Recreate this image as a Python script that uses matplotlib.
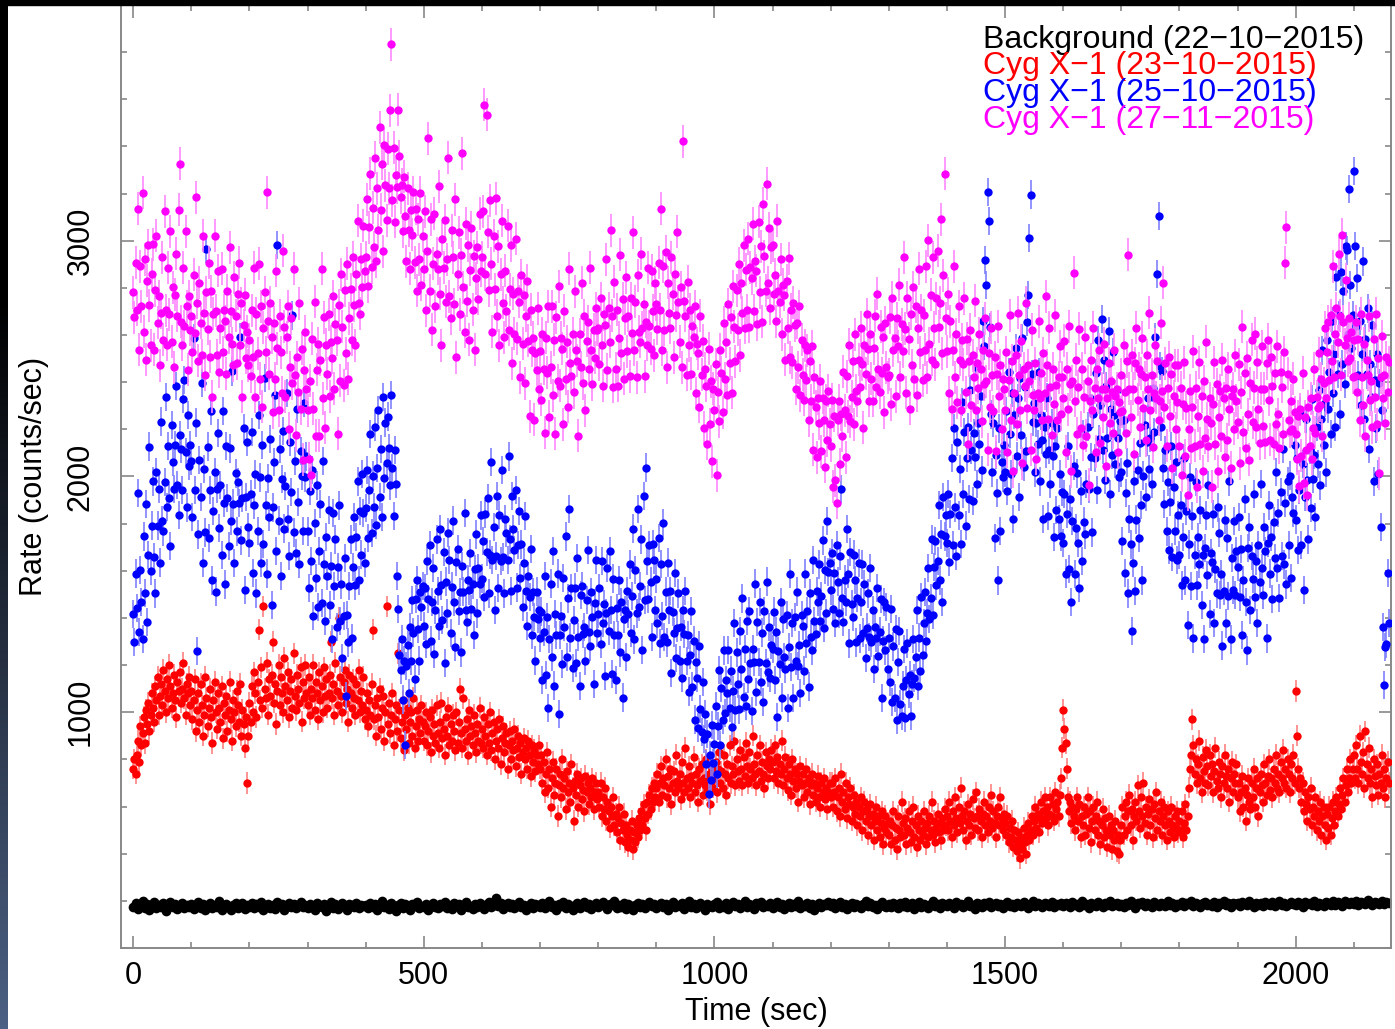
import numpy as np
import matplotlib
matplotlib.use('Agg')
import matplotlib.pyplot as plt
from matplotlib.ticker import MultipleLocator
from matplotlib.patches import Rectangle

plt.rcParams['font.family'] = ['Liberation Sans', 'DejaVu Sans']

DT_BKG = 4.0  # background bin width (s)
DT_SRC = 2.0  # source bin width (s)

# background, 22-10-2015 (counts/sec)
bkg_rate = [
    175, 190, 165, 182, 200, 170, 185, 160, 178, 195, 168, 184, 172, 190, 158, 180, 197, 174, 186, 165, 181, 192, 170, 183, 176,
    188, 166, 179, 194, 171, 185, 160, 177, 190, 168, 182, 175, 198, 163, 180, 187, 172, 160, 184, 193, 170, 178, 189, 165, 181,
    176, 192, 168, 185, 174, 196, 162, 180, 188, 171, 183, 166, 194, 177, 185, 160, 179, 191, 173, 186, 168, 182, 197, 175, 184,
    170, 187, 178, 163, 192, 180, 174, 188, 159, 183, 196, 171, 185, 167, 179, 193, 176, 162, 186, 181, 172, 190, 168, 184, 177,
    182, 169, 193, 175, 186, 161, 179, 198, 173, 184, 166, 189, 177, 158, 181, 192, 170, 185, 175, 163, 188, 178, 195, 168, 180,
    174, 187, 162, 181, 193, 176, 168, 185, 179, 196, 171, 183, 165, 190, 177, 186, 160, 182, 194, 173, 180, 167, 188, 176, 191,
    179, 166, 185, 195, 172, 183, 210, 177, 189, 164, 181, 192, 175, 186, 169, 180, 197, 173, 184, 161, 178, 191, 170, 187, 182,
    176, 190, 168, 184, 199, 174, 182, 163, 188, 179, 194, 171, 185, 176, 160, 183, 192, 168, 181, 196, 175, 187, 166, 180, 189,
    172, 185, 195, 178, 164, 188, 181, 198, 170, 183, 176, 191, 167, 186, 179, 160, 184, 193, 174, 188, 169, 182, 197, 177, 185,
    168, 181, 192, 175, 187, 163, 179, 195, 172, 184, 177, 190, 165, 183, 198, 174, 186, 170, 181, 193, 176, 162, 188, 180, 174,
    185, 196, 171, 182, 175, 190, 166, 183, 194, 178, 187, 169, 181, 199, 173, 186, 179, 164, 189, 182, 195, 172, 184, 177, 191,
    170, 183, 196, 176, 188, 165, 181, 192, 174, 186, 179, 200, 168, 184, 177, 193, 171, 185, 162, 180, 190, 175, 187, 183, 196,
    178, 189, 171, 184, 197, 176, 186, 166, 181, 193, 175, 188, 179, 170, 185, 198, 177, 190, 173, 183, 164, 187, 195, 180, 176,
    186, 173, 192, 181, 168, 189, 178, 197, 175, 184, 190, 167, 182, 194, 176, 187, 180, 171, 186, 199, 178, 185, 169, 191, 183,
    177, 190, 184, 170, 195, 181, 188, 174, 186, 200, 179, 183, 167, 192, 185, 176, 189, 181, 196, 172, 184, 191, 178, 187, 170,
    188, 197, 180, 185, 173, 191, 184, 178, 194, 186, 169, 182, 199, 177, 189, 183, 175, 192, 186, 180, 196, 174, 188, 182, 193,
    179, 190, 185, 172, 194, 183, 188, 176, 198, 181, 187, 170, 191, 184, 179, 196, 186, 175, 189, 182, 200, 177, 185, 192, 180,
    187, 176, 193, 184, 198, 181, 170, 189, 185, 195, 178, 191, 183, 174, 196, 187, 180, 192, 186, 177, 199, 184, 190, 173, 188,
    183, 195, 179, 190, 186, 201, 178, 192, 184, 173, 189, 197, 182, 187, 180, 194, 176, 191, 185, 198, 181, 189, 175, 193, 186,
    190, 179, 196, 185, 181, 199, 187, 176, 193, 183, 190, 178, 197, 186, 184, 194, 180, 189, 201, 183, 192, 177, 188, 195, 185,
    181, 194, 188, 172, 197, 186, 191, 183, 199, 180, 193, 187, 178, 196, 189, 184, 200, 182, 195, 188, 179, 198, 190, 185, 194,
    187, 200, 183, 196, 191, 185, 203, 189, 181, 197, 192, 186, 199, 188, 195, 190,
]

# Cyg X-1, 23-10-2015
red_rate = [
    760, 800, 740, 820, 880, 790, 940, 860, 910, 980, 870, 1010, 950, 1040, 920, 990, 1080, 1020, 960, 1110, 1050, 1150, 990, 1070, 1120, 1030, 1180, 1090, 1000, 1140, 1060, 1200, 1110, 1020, 1080, 1160, 1050, 980, 1130, 1090, 1170, 1040, 1100, 1210, 1060, 990, 1120, 1080, 1150, 1030,
    1090, 970, 1050, 1140, 920, 1010, 1080, 960, 1120, 1030, 900, 990, 1150, 1060, 940, 1020, 1100, 980, 870, 1050, 1130, 1000, 930, 1080, 1020, 960, 1110, 890, 1040, 990, 1070, 920, 1010, 1130, 970, 880, 1050, 1000, 940, 1090, 1030, 960, 1120, 900, 1010, 950, 850, 980, 700, 900,
    1040, 960, 1110, 1000, 1170, 1080, 980, 1130, 1350, 1050, 1190, 1020, 1450, 1100, 1060, 1210, 990, 1140, 1070, 1160, 1300, 1040, 1120, 950, 1090, 1200, 1030, 1150, 1080, 1000, 1230, 1110, 1050, 1170, 980, 1090, 1140, 1020, 1250, 1070, 1010, 1160, 1100, 1040, 1190, 960, 1130, 1060, 1200, 1080,
    1030, 1150, 990, 1100, 1060, 1200, 1010, 1130, 1080, 970, 1170, 1050, 1110, 1000, 1190, 1070, 1140, 1020, 1080, 1160, 1300, 1060, 1120, 990, 1210, 1090, 1030, 1400, 1150, 1070, 1000, 1130, 1180, 1040, 1100, 960, 1160, 1080, 1020, 1140, 1060, 990, 1120, 1050, 1180, 1000, 1090, 1030, 1150, 970,
    1010, 1080, 940, 1050, 990, 1120, 1350, 970, 1030, 900, 1060, 980, 1100, 930, 1020, 1070, 880, 1000, 1450, 950, 1040, 910, 990, 1080, 860, 970, 1030, 920, 1250, 1010, 890, 960, 1050, 840, 990, 930, 1020, 870, 960, 1000, 900, 1060, 850, 940, 1010, 880, 970, 910, 1030, 960,
    880, 940, 1000, 860, 920, 980, 830, 1010, 900, 950, 870, 1030, 910, 850, 960, 1040, 890, 930, 820, 980, 900, 1020, 860, 950, 880, 990, 920, 840, 1000, 870, 960, 1100, 910, 850, 1060, 930, 880, 970, 820, 1010, 900, 940, 860, 990, 910, 830, 950, 880, 1020, 870,
    930, 850, 980, 900, 820, 950, 870, 1000, 840, 910, 960, 800, 880, 930, 850, 970, 780, 890, 940, 830, 870, 910, 760, 860, 920, 800, 880, 840, 930, 770, 850, 900, 810, 870, 740, 830, 890, 800, 850, 760, 880, 820, 730, 860, 790, 840, 750, 820, 780, 860,
    760, 820, 700, 790, 660, 740, 830, 680, 760, 600, 720, 790, 650, 700, 760, 560, 690, 740, 640, 800, 680, 720, 590, 750, 660, 700, 620, 780, 680, 540, 710, 650, 740, 600, 690, 720, 630, 670, 580, 730, 660, 700, 610, 680, 640, 720, 590, 660, 700, 630,
    660, 600, 700, 560, 640, 590, 680, 540, 620, 580, 510, 600, 560, 640, 520, 570, 490, 550, 600, 460, 530, 500, 570, 450, 520, 480, 430, 500, 460, 540, 420, 490, 450, 520, 470, 550, 500, 580, 520, 610, 550, 500, 620, 570, 650, 590, 680, 620, 700, 640,
    680, 740, 620, 700, 770, 650, 720, 690, 800, 640, 730, 680, 760, 610, 700, 750, 660, 820, 710, 680, 740, 630, 790, 700, 660, 850, 720, 680, 770, 640, 730, 700, 810, 660, 740, 690, 620, 760, 710, 780, 650, 720, 690, 800, 670, 740, 610, 700, 760, 680,
    720, 790, 660, 760, 830, 700, 750, 680, 820, 740, 650, 780, 720, 860, 700, 770, 740, 880, 690, 800, 750, 710, 840, 760, 690, 810, 730, 870, 770, 700, 830, 760, 720, 900, 780, 740, 690, 820, 750, 860, 710, 790, 740, 680, 830, 770, 720, 800, 760, 840,
    790, 720, 860, 750, 810, 700, 780, 740, 880, 690, 760, 810, 720, 670, 780, 740, 650, 800, 710, 760, 680, 740, 620, 710, 770, 690, 740, 640, 700, 760, 660, 720, 610, 690, 740, 650, 700, 620, 680, 730, 640, 600, 700, 660, 720, 630, 680, 590, 660, 700,
    640, 700, 600, 660, 720, 580, 640, 680, 560, 740, 620, 660, 590, 700, 550, 640, 610, 680, 540, 600, 650, 570, 620, 520, 600, 560, 640, 500, 580, 620, 540, 590, 480, 560, 610, 520, 570, 460, 540, 600, 500, 560, 470, 530, 580, 440, 510, 560, 490, 530,
    480, 540, 440, 520, 580, 460, 510, 420, 560, 500, 470, 620, 530, 480, 550, 440, 510, 580, 490, 450, 540, 600, 470, 520, 430, 560, 500, 460, 540, 480, 580, 510, 440, 530, 470, 560, 500, 620, 480, 540, 450, 510, 570, 490, 530, 460, 550, 500, 590, 520,
    560, 500, 620, 540, 470, 580, 520, 640, 550, 490, 600, 530, 680, 560, 500, 580, 460, 540, 610, 520, 570, 480, 630, 550, 510, 660, 560, 500, 590, 540, 470, 570, 620, 520, 560, 490, 600, 540, 650, 510, 580, 530, 470, 560, 600, 520, 640, 550, 500, 570,
    530, 480, 560, 450, 510, 470, 540, 430, 500, 460, 410, 490, 440, 380, 470, 420, 510, 450, 400, 480, 530, 460, 500, 560, 480, 540, 600, 510, 570, 490, 550, 620, 530, 580, 640, 550, 600, 520, 570, 640, 560, 610, 540, 660, 590, 620, 560, 650, 720, 850,
    1010, 930, 870, 760, 640, 580, 620, 530, 600, 560, 500, 590, 640, 540, 610, 470, 560, 520, 600, 480, 570, 640, 510, 580, 450, 540, 600, 500, 560, 620, 480, 540, 440, 520, 590, 470, 550, 500, 430, 560, 480, 520, 420, 500, 460, 540, 410, 480, 400, 460,
    520, 600, 480, 560, 620, 500, 580, 650, 520, 590, 460, 560, 620, 540, 690, 580, 510, 640, 560, 700, 530, 600, 480, 570, 630, 520, 590, 470, 610, 550, 660, 500, 580, 540, 620, 480, 560, 600, 520, 460, 580, 540, 490, 600, 520, 470, 560, 510, 580, 490,
    540, 500, 580, 470, 530, 610, 500, 560, 680, 760, 820, 970, 860, 740, 800, 700, 780, 880, 720, 660, 810, 750, 700, 840, 770, 690, 820, 730, 780, 660, 750, 850, 710, 680, 790, 740, 640, 770, 700, 820, 730, 680, 760, 620, 720, 790, 660, 740, 700, 780,
    640, 700, 580, 660, 730, 600, 680, 540, 650, 720, 620, 590, 700, 640, 760, 600, 680, 720, 560, 660, 740, 690, 620, 780, 700, 650, 730, 800, 670, 720, 640, 760, 700, 820, 680, 740, 660, 790, 720, 840, 700, 760, 680, 800, 740, 660, 780, 720, 820, 700,
    1090, 900, 760, 680, 720, 620, 700, 580, 660, 610, 540, 640, 590, 680, 520, 600, 560, 640, 500, 580, 540, 620, 480, 560, 600, 520, 460, 570, 510, 600, 480, 550, 620, 520, 580, 640, 560, 610, 680, 590, 650, 720, 620, 690, 760, 660, 720, 800, 700, 760,
    820, 720, 860, 760, 700, 900, 790, 740, 830, 680, 920, 780, 720, 850, 700, 760, 640, 800, 730, 690, 780, 650, 740, 700, 820, 680, 760, 640, 720, 790, 700,
]

# Cyg X-1, 25-10-2015
blue_rate = [
    1417, 1297, 1588, 1442, 1929, 1339, 1604, 1469, 1312, 1746, 1505, 1883, 1383, 1667, 2127, 1598, 1792, 1979, 1659, 1504, 2019, 1792, 1946, 1635, 2233, 1813, 1767, 1977, 2338, 1872, 2129, 1909, 1704, 2219, 2062, 1946, 2135, 2383, 1963, 1837, 2177, 2118, 1942, 2329, 2409, 2104, 1869, 2262, 2046, 2135,
    2067, 1827, 2588, 1942, 2229, 1259, 1754, 2069, 1912, 2396, 1635, 2033, 1763, 2967, 2127, 1738, 1942, 2279, 1559, 1854, 2019, 1512, 1946, 2185, 1783, 1963, 1667, 2277, 1888, 1542, 2129, 1909, 1704, 2119, 1812, 2446, 1885, 1633, 2013, 1767, 1977, 1888, 2592, 1729, 1909, 2204, 1519, 1912, 2146, 1785,
    1717, 1927, 2188, 1592, 1879, 2009, 1504, 1769, 2262, 1996, 1635, 2133, 1713, 2417, 1877, 1588, 1992, 1829, 2159, 1454, 1869, 2062, 2346, 1685, 2983, 1813, 2117, 1577, 1988, 2192, 1779, 1959, 2354, 1819, 1662, 2146, 1935, 2683, 1763, 2067, 1677, 2288, 1892, 1629, 2109, 2004, 1769, 2312, 1996, 2085,
    1767, 1527, 1938, 1642, 2029, 1409, 1804, 1569, 1962, 1446, 1685, 1883, 1463, 2067, 1627, 1388, 1742, 1579, 1859, 1454, 1619, 1312, 1846, 1535, 1733, 1363, 1617, 1877, 1388, 1542, 1229, 1409, 1654, 1069, 1412, 1296, 1535, 1733, 1313, 1617, 1827, 1538, 1742, 1979, 1559, 1854, 1669, 2012, 1846, 1635,
    1867, 2027, 1738, 1942, 2179, 1759, 2004, 1869, 2212, 1796, 2035, 2283, 1913, 2117, 1827, 2338, 1992, 2229, 2059, 2254, 2119, 1962, 2346, 2035, 1833, 2113, 1967, 1577, 1438, 1242, 1179, 1309, 1054, 1219, 862, 1196, 1285, 1083, 1363, 1217, 1477, 1338, 1142, 1479, 1559, 1354, 1219, 1512, 1446, 1535,
    1367, 1527, 1288, 1642, 1479, 1709, 1304, 1469, 1612, 1246, 1435, 1733, 1513, 1367, 1777, 1538, 1392, 1679, 1209, 1554, 1419, 1762, 1646, 1335, 1533, 1813, 1467, 1277, 1638, 1692, 1429, 1509, 1254, 1619, 1512, 1846, 1435, 1383, 1563, 1517, 1677, 1438, 1542, 1329, 1609, 1754, 1419, 1612, 1546, 1835,
    1567, 1727, 1488, 1842, 1679, 1909, 1504, 1669, 2062, 1646, 1785, 1433, 1663, 1917, 1527, 1838, 1642, 2029, 1659, 1504, 1819, 1762, 1646, 2085, 1733, 1513, 1917, 1777, 1688, 1942, 1529, 1709, 1854, 1569, 1712, 1446, 1635, 1833, 1513, 1367, 1577, 1488, 1692, 1329, 1509, 1404, 1219, 1512, 1396, 1435,
    1317, 1427, 1138, 1342, 1579, 1159, 1404, 1019, 1312, 1546, 1235, 1683, 1113, 1417, 1327, 1588, 992, 1329, 1409, 1204, 1569, 1362, 1746, 1235, 1483, 1863, 1317, 1527, 1188, 1392, 1529, 1209, 1654, 1319, 1112, 1496, 1535, 1333, 1363, 1217, 1477, 1688, 1342, 1279, 1509, 1404, 1119, 1462, 1646, 1335,
    1417, 1527, 1288, 1642, 1379, 1459, 1154, 1419, 1612, 1346, 1685, 1433, 1163, 1567, 1327, 1138, 1442, 1329, 1559, 1254, 1469, 1062, 1396, 1435, 1233, 1513, 1417, 1627, 1338, 1492, 1779, 1309, 1604, 1419, 1862, 1446, 1535, 1733, 1263, 1917, 1477, 2038, 1642, 1479, 1709, 1554, 1319, 1712, 1646, 1435,
    1567, 1377, 1738, 1292, 1629, 1409, 1804, 1319, 1512, 1296, 1635, 1433, 1513, 1167, 1427, 1338, 1592, 1229, 1359, 1504, 1219, 1362, 1146, 1435, 1333, 1513, 1217, 1327, 1088, 1242, 1429, 1109, 1304, 969, 1212, 1146, 935, 1283, 1013, 917, 1127, 888, 992, 779, 909, 654, 819, 712, 946, 785,
    867, 1027, 738, 942, 1179, 859, 1104, 969, 1262, 996, 1135, 1083, 1263, 1017, 1177, 938, 1092, 1379, 1009, 1254, 1119, 1012, 1346, 1185, 1483, 1063, 1267, 1027, 1388, 1142, 1429, 1209, 1004, 1269, 1212, 1546, 1085, 1383, 1213, 1467, 1127, 1338, 1042, 1429, 1209, 1554, 1169, 1362, 1146, 1285,
    1267, 1427, 1138, 1342, 979, 1259, 1204, 1469, 1062, 1396, 1235, 1183, 1413, 1017, 1277, 1588, 1192, 1379, 1059, 1404, 1219, 1512, 1196, 1285, 1083, 1413, 1367, 1177, 1588, 1292, 1429, 1109, 1504, 1319, 1262, 1646, 1385, 1333, 1513, 1467, 1627, 1388, 1492, 1729, 1359, 1604, 1419, 1812, 1596, 1635,
    1517, 1677, 1438, 1592, 1379, 1709, 1554, 1419, 1662, 1946, 1485, 1383, 1563, 1467, 1777, 1588, 1292, 1679, 1459, 1404, 1669, 1562, 1296, 1485, 1633, 1313, 1467, 1627, 1338, 1542, 1229, 1359, 1504, 1319, 1612, 1296, 1435, 1183, 1363, 1317, 1527, 1238, 1342, 1479, 1059, 1304, 1469, 1262, 1446, 1185,
    1317, 1127, 1438, 1042, 1279, 1059, 1354, 969, 1212, 1346, 1035, 983, 1113, 1267, 977, 1138, 1292, 1079, 1159, 984, 1119, 1312, 1146, 1235, 1433, 1113, 1317, 1177, 1488, 1242, 1379, 1509, 1304, 1419, 1612, 1396, 1485, 1733, 1413, 1617, 1727, 1538, 1642, 1879, 1559, 1754, 1469, 1912, 1746, 1835,
    1717, 1927, 1638, 1842, 2079, 1709, 2204, 1869, 1662, 2146, 1835, 2033, 1713, 2317, 1927, 2188, 1792, 2079, 2209, 1904, 2369, 2112, 1896, 2185, 2083, 2463, 1967, 2227, 2138, 2342, 2029, 2659, 2554, 2919, 2812, 3206, 3085, 2633, 2263, 2017, 2227, 1738, 2092, 1929, 1559, 2204, 1769, 2062, 1996, 2135,
    2017, 2277, 1938, 2442, 2179, 2009, 2354, 1819, 2262, 2546, 2085, 2333, 1913, 2417, 2177, 2588, 2042, 2379, 2109, 2654, 2769, 3012, 3196, 2435, 2233, 2313, 2017, 2227, 2138, 2442, 1979, 2259, 2154, 1819, 2212, 2096, 2335, 1833, 2113, 1967, 2227, 2088, 1742, 2129, 1859, 2204, 1819, 2012, 1746, 1935,
    1717, 1927, 1588, 1842, 2129, 1609, 1904, 1469, 1812, 2046, 1585, 1783, 2013, 1717, 1527, 1938, 1642, 2179, 1809, 1754, 1969, 2212, 1946, 2335, 2083, 1763, 2267, 2077, 2438, 1942, 2579, 2159, 2304, 2669, 2112, 2496, 1985, 2383, 2163, 2617, 1927, 2288, 2092, 2529, 2259, 2054, 2369, 2162, 1996, 2235,
    2017, 1727, 2238, 1592, 1929, 2059, 1504, 1819, 1712, 1346, 1635, 1983, 1513, 1817, 2027, 1738, 2142, 1879, 1559, 2004, 2219, 1912, 2146, 2335, 2033, 2163, 1967, 2377, 2188, 2592, 2329, 2859, 3104, 2469, 2212, 2446, 2035, 1883, 2113, 1767, 1977, 1688, 1892, 2129, 1659, 1954, 1769, 2062, 1646, 1835,
    1667, 1877, 1538, 1742, 2079, 1559, 1854, 1369, 1712, 1996, 1535, 1833, 1313, 1667, 1977, 1538, 1742, 1629, 1859, 1454, 1669, 1312, 1696, 1835, 1583, 1963, 1417, 1677, 1638, 1842, 1379, 1609, 1504, 1869, 1762, 1496, 1585, 1283, 1513, 1817, 1377, 1738, 1492, 1979, 1309, 1654, 1519, 1812, 1496, 1685,
    1617, 1827, 1488, 1692, 1329, 1559, 1904, 1469, 1262, 1696, 1785, 1433, 1663, 1567, 1927, 1488, 1642, 1379, 1709, 1554, 1969, 1612, 1496, 1785, 1683, 1313, 1717, 1877, 1588, 1742, 1479, 1809, 1654, 2019, 1612, 1846, 1485, 1933, 1663, 2117, 1627, 1888, 1542, 1979, 1709, 2004, 1569, 1912, 1846, 2135,
    1817, 2077, 1688, 1942, 2279, 1709, 2054, 1519, 1912, 2246, 1985, 1733, 2113, 1867, 2327, 1988, 2092, 1829, 2209, 2054, 2369, 1962, 2246, 2535, 2133, 2313, 2017, 2577, 2288, 2442, 2179, 2659, 2354, 2519, 2212, 2846, 2435, 2683, 2263, 2867, 2477, 2788, 2392, 2979, 2959, 2604, 3219, 2812, 2546, 2685,
    3297, 2977, 2638, 2842, 2429, 2659, 2304, 2519, 2912, 2246, 2585, 2433, 2713, 2117, 2477, 2338, 2642, 1979, 2409, 2204, 2519, 2012, 2396, 1785, 2283, 1363, 1117, 1277, 1288, 1592, 1379,
]

# Cyg X-1, 27-11-2015
mag_rate = [
    2781, 2676, 2906, 2708, 3135, 2538, 2891, 2722, 3203, 2614, 2922, 2495, 2831, 2981, 2726, 2556, 2858, 2985, 2538, 2791, 3022, 2653, 2764, 2472, 2695, 2931, 2581, 3126, 2706, 2558, 2885, 2688, 3041, 2572, 2803, 2464, 2772, 2945, 2681, 3131, 3326, 2656, 2558, 2885, 2638, 3041, 2722, 2453, 2764, 2622,
    2681, 2526, 2856, 2608, 3185, 2738, 2491, 2822, 2653, 2514, 3022, 2695, 2431, 2781, 2626, 2906, 2508, 2785, 2338, 2691, 3022, 2703, 2514, 2872, 2445, 2631, 2881, 2526, 2706, 2658, 2435, 2788, 2591, 2972, 2703, 2564, 2472, 2845, 2681, 2481, 2776, 2906, 2558, 2735, 2338, 2641, 2772, 2503, 2614, 2472,
    2581, 2426, 2706, 2508, 2885, 2338, 2691, 2522, 2903, 2414, 2722, 2295, 2631, 2781, 2526, 3206, 2658, 2435, 2738, 2591, 2272, 2653, 2414, 2872, 2545, 2281, 2681, 2526, 2356, 2958, 2635, 2338, 2591, 2722, 2203, 2464, 2672, 2395, 2881, 2431, 2176, 2506, 2358, 2735, 2288, 2541, 2072, 2453, 2614, 2372,
    2281, 2076, 2406, 2008, 2585, 2288, 2741, 2172, 2453, 2564, 2172, 2495, 2881, 2331, 2676, 2206, 2558, 2435, 2688, 2341, 2572, 2503, 2764, 2372, 2645, 2581, 2181, 2726, 2406, 2858, 2635, 2388, 2791, 2522, 2903, 2414, 2672, 2795, 2581, 2931, 2726, 2556, 2858, 3085, 2738, 2691, 2922, 2803, 3064, 2872,
    2931, 3176, 2806, 3058, 3285, 2888, 3141, 2972, 3353, 2914, 3222, 3045, 3481, 3131, 3326, 2956, 3408, 3235, 3088, 3391, 3222, 3553, 3834, 3172, 3395, 3081, 3281, 3226, 3556, 3358, 3185, 3238, 3041, 3272, 3103, 2914, 3222, 3045, 2881, 3131, 3026, 3206, 2908, 3135, 2788, 3091, 2922, 3203, 2814, 3022,
    2881, 3126, 2706, 2958, 3435, 2788, 3091, 2622, 2903, 3114, 2722, 2945, 2881, 3231, 2776, 2556, 3008, 2885, 3088, 2741, 2922, 3353, 2764, 2672, 3045, 2931, 2731, 3176, 2506, 2858, 3035, 2688, 2941, 3372, 2803, 2614, 3072, 2745, 2981, 2581, 2876, 3056, 2708, 2935, 2538, 2841, 2972, 2753, 3114, 2872,
    2931, 3126, 3576, 2858, 3535, 3038, 2791, 3172, 2903, 2614, 3022, 2795, 3181, 2681, 2976, 2556, 2858, 3085, 2738, 2591, 2872, 2703, 3064, 2622, 2795, 2981, 2481, 2776, 2606, 3008, 2585, 2788, 2741, 2422, 2853, 2564, 2772, 2395, 2681, 2831, 2576, 2256, 2708, 2535, 2588, 2241, 2522, 2453, 2714, 2372,
    2531, 2326, 2606, 2458, 2185, 2588, 2441, 2722, 2253, 2464, 2722, 2345, 2581, 2181, 2676, 2406, 2808, 2385, 2588, 2541, 2222, 2703, 2414, 2572, 2295, 2881, 2481, 2426, 2606, 2358, 2785, 2538, 2491, 2172, 2603, 2464, 2822, 2395, 2681, 2281, 2576, 2656, 2458, 2885, 2538, 2391, 2622, 2503, 2714, 2622,
    2631, 2476, 2756, 2558, 2385, 2688, 2641, 2922, 2453, 2714, 2572, 3045, 2681, 2381, 2826, 2456, 2708, 2385, 2588, 2941, 2522, 2753, 2414, 2672, 2845, 2531, 2681, 2426, 2756, 2608, 3035, 2538, 2741, 2422, 2853, 2614, 2572, 2945, 2631, 2731, 2426, 2656, 2558, 2885, 2638, 2541, 2872, 2703, 2514, 2822,
    2731, 2626, 2906, 2708, 3135, 2538, 2891, 2622, 2953, 2464, 2822, 2695, 2631, 2931, 2776, 2506, 2858, 2685, 3038, 2741, 2572, 2803, 2464, 3422, 2745, 2681, 2431, 2826, 2556, 2708, 2435, 2638, 2591, 2722, 2353, 2564, 2522, 2295, 2681, 2431, 2576, 2206, 2458, 2385, 2138, 2541, 2222, 2403, 2064, 2372,
    2281, 2476, 2006, 2358, 2235, 2538, 2441, 2272, 2653, 2414, 2572, 2345, 2731, 2481, 2676, 2356, 2808, 2635, 2488, 2791, 2622, 2903, 2514, 2822, 2695, 2981, 2631, 2876, 2706, 3008, 2635, 2888, 2841, 3072, 2703, 2914, 2872, 2645, 3081, 2781, 2976, 2656, 3158, 2935, 2788, 3241, 2822, 3053, 2714, 2972,
    2981, 2776, 2856, 2658, 3085, 2788, 2741, 2922, 2603, 2814, 2772, 2495, 2831, 2631, 2926, 2506, 2708, 2485, 2738, 2641, 2372, 2653, 2464, 2722, 2345, 2581, 2431, 2326, 2556, 2408, 2535, 2238, 2491, 2322, 2553, 2114, 2422, 2295, 2081, 2331, 2226, 2406, 2108, 2335, 2238, 2041, 2322, 2153, 2364, 2222,
    2131, 2326, 1956, 2258, 1985, 1888, 2241, 2322, 2053, 2264, 2172, 2445, 2281, 2081, 2426, 2256, 2558, 2235, 2338, 2491, 2222, 2603, 2364, 2322, 2495, 2381, 2631, 2476, 2206, 2558, 2435, 2688, 2541, 2322, 2603, 2414, 2322, 2545, 2681, 2381, 2776, 2456, 2358, 2635, 2438, 2591, 2272, 2653, 2464, 2422,
    2431, 2676, 2306, 2758, 2535, 2588, 2341, 2672, 2553, 2814, 2422, 2645, 2531, 2931, 2626, 2356, 2758, 2585, 2288, 2691, 2472, 2803, 2414, 2722, 2345, 2631, 2881, 2526, 2706, 2408, 2685, 2538, 2891, 2422, 3003, 2564, 2772, 2495, 2931, 2631, 2476, 2756, 2958, 2635, 2738, 3091, 2522, 2853, 3284, 2672,
    2531, 2776, 2356, 2658, 2285, 2538, 2891, 2422, 2603, 2314, 2722, 2495, 2281, 2581, 2476, 2756, 2358, 2585, 2138, 2491, 2622, 2303, 2514, 2422, 2745, 2281, 2481, 2376, 2606, 2458, 2235, 2538, 2391, 2672, 2403, 2114, 2522, 2295, 2631, 2431, 2276, 2506, 2108, 2435, 2638, 2341, 2472, 2203, 2414, 2372,
    2281, 2526, 2106, 2408, 2685, 2238, 2491, 2022, 2353, 2514, 2222, 2695, 2431, 2281, 2576, 2056, 2458, 2385, 2738, 2291, 2472, 2403, 2114, 2622, 2345, 2281, 2481, 2076, 2356, 2658, 2335, 2438, 2241, 2522, 2353, 2764, 2472, 2245, 2631, 2381, 2176, 2456, 2308, 2685, 2388, 2241, 2422, 2553, 2264, 2422,
    2331, 2576, 2106, 2458, 2285, 2638, 2391, 2022, 2403, 2864, 2322, 2495, 2181, 2381, 2626, 2206, 2458, 2135, 2338, 2591, 2172, 2403, 1964, 2322, 2495, 2281, 2631, 2376, 2106, 2458, 2335, 2538, 2141, 2372, 2253, 2564, 2372, 2045, 2331, 2481, 2226, 2406, 2358, 2185, 2538, 2341, 2372, 2103, 2314, 2272,
    2431, 2276, 2556, 2358, 2185, 2488, 2941, 2372, 2253, 2514, 2372, 2095, 2481, 2631, 2326, 2456, 2208, 2435, 2588, 2291, 2422, 2153, 2514, 2372, 2695, 2281, 2431, 2126, 2356, 2558, 2335, 2488, 2241, 2322, 2653, 2364, 2822, 2295, 2481, 2131, 2376, 2506, 2258, 2435, 2038, 2341, 2472, 2203, 2314, 2472,
    2131, 2376, 2006, 2308, 2485, 2088, 2291, 1922, 2203, 2364, 2122, 2295, 2531, 2131, 2376, 1956, 2258, 2485, 2138, 2341, 2022, 2403, 2164, 2572, 2245, 2131, 2331, 2226, 1956, 2308, 2485, 2138, 2391, 2022, 2253, 2364, 2172, 2495, 2331, 2081, 2376, 2156, 2458, 2285, 2038, 2341, 2372, 2203, 2514, 2322,
    2231, 2476, 2056, 2358, 2635, 2188, 2441, 2122, 2503, 2264, 2072, 2395, 2581, 2231, 2376, 2606, 2208, 2485, 2288, 2141, 2372, 2553, 2214, 2372, 2145, 2481, 2581, 2326, 2156, 2508, 2385, 2138, 2441, 2222, 2553, 2264, 2122, 2445, 2381, 2181, 2526, 2906, 3058, 2435, 2238, 2191, 2322, 2203, 2414, 2272,
    2181, 2076, 2256, 1958, 2285, 2088, 2441, 1972, 2253, 2114, 1922, 2295, 2131, 2331, 2076, 2206, 2458, 2185, 2338, 2291, 2522, 2303, 2414, 2172, 2395, 2631, 2331, 2526, 2656, 2408, 2685, 2488, 2891, 2422, 2603, 2714, 2572, 2945, 2681, 2431, 3026, 2656, 2558, 2835, 2588, 2491, 2672, 2503, 2614, 2422,
    2581, 2426, 2656, 2358, 2585, 2238, 2691, 2422, 2303, 2564, 2172, 2495, 2431, 2681, 2326, 2406, 2208, 2585, 2338, 2691, 2222, 2503, 2014, 2422, 2595, 2331, 2431, 2226, 2506, 2358, 2485,
]

# 1-sigma errors (counts/sec)
bkg_err = 15
red_err = 45
blue_err = 60
mag_err = 70

labels = [
    'Background (22\u221210\u22122015)',
    'Cyg X\u22121 (23\u221210\u22122015)',
    'Cyg X\u22121 (25\u221210\u22122015)',
    'Cyg X\u22121 (27\u221211\u22122015)',
]

W, H = 1395, 1029
fig = plt.figure(figsize=(W / 100, H / 100), dpi=100, facecolor='white')
ax = fig.add_axes([121 / W, 1 - 948 / H, (1391 - 121) / W, (948 - 5) / H])

series = [
    (bkg_rate, DT_BKG, bkg_err, 'black', '#606060', 7.0),
    (red_rate, DT_SRC, red_err, '#ff0000', '#ff8080', 6.0),
    (blue_rate, DT_SRC, blue_err, '#0000ff', '#8080ff', 6.0),
    (mag_rate, DT_SRC, mag_err, '#ff00ff', '#ff88ff', 6.0),
]
for i, (rate, dt, err, col, ecol, ms) in enumerate(series):
    t = dt * np.arange(len(rate))
    ax.errorbar(t, rate, yerr=err, fmt='o', ms=ms, color=col, mec=col, mew=0,
                ecolor=ecol, elinewidth=1.2, capsize=0, zorder=2 + i)

ax.set_xlim(-21, 2164)
ax.set_ylim(0, 4000)
ax.xaxis.set_major_locator(MultipleLocator(500))
ax.xaxis.set_minor_locator(MultipleLocator(100))
ax.yaxis.set_major_locator(MultipleLocator(1000))
ax.yaxis.set_minor_locator(MultipleLocator(200))
ax.tick_params(which='both', direction='in', top=True, right=True,
               color='#888888', width=1.2, labelsize=22)
ax.tick_params(which='major', length=9)
ax.tick_params(which='minor', length=4.5)
ax.tick_params(axis='x', pad=9)
ax.tick_params(axis='y', pad=18)
ax.set_yticks([1000, 2000, 3000])
for lab in ax.get_yticklabels():
    lab.set_rotation(90)
    lab.set_va('center')
for sp in ax.spines.values():
    sp.set_color('#888888')
    sp.set_linewidth(1.4)

ax.set_xlabel('Time (sec)', fontsize=22, labelpad=5)
ax.set_ylabel('Rate (counts/sec)', fontsize=22, labelpad=12)

# legend as stacked coloured text
leg_y = [48, 74, 101, 128]
leg_c = ['black', '#ff0000', '#0000ff', '#ff00ff']
for lab, yb, c in zip(labels, leg_y, leg_c):
    fig.text(983 / W, 1 - yb / H, lab, color=c, fontsize=23, va='baseline', ha='left', zorder=20)

# dark slide border (top strip and left gradient)
fig.add_artist(Rectangle((0, 1 - 5 / H), 1, 5 / H, transform=fig.transFigure,
                         color='black', zorder=30))
bax = fig.add_axes([0, 0, 8 / W, 1])
grad = np.zeros((H, 1, 3))
frac = np.clip((np.arange(H) - 300) / (H - 300), 0, 1)
for k, v in enumerate([0.30, 0.38, 0.52]):
    grad[:, 0, k] = frac * v
bax.imshow(grad, aspect='auto', extent=[0, 1, 1, 0])
bax.set_axis_off()

fig.savefig('out.png', dpi=100, facecolor='white')
